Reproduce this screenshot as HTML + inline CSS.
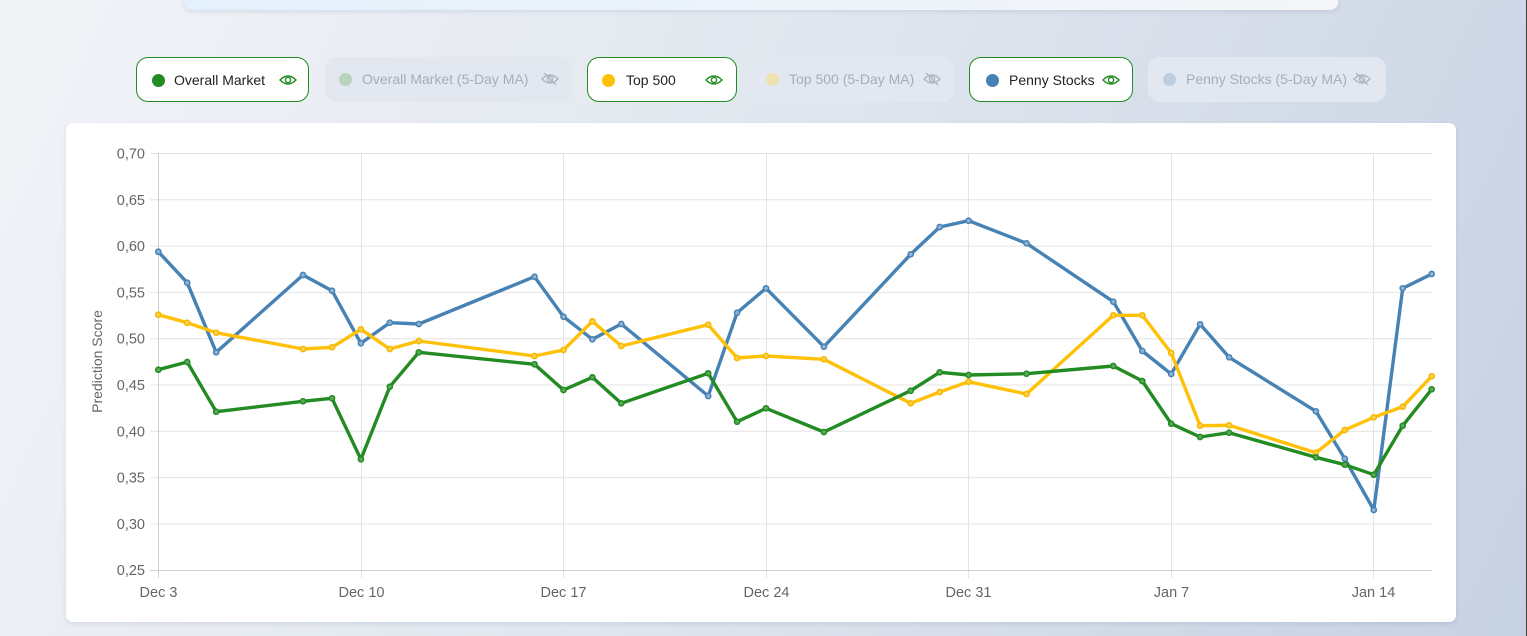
<!DOCTYPE html>
<html><head><meta charset="utf-8">
<style>
*{margin:0;padding:0;box-sizing:border-box}
html,body{width:1527px;height:636px;overflow:hidden}
body{position:relative;background:linear-gradient(115deg,#f1f3f7 0%,#e2e7ef 45%,#c6d1e2 100%);font-family:"Liberation Sans",Arial,sans-serif}
.topcard{position:absolute;left:184px;top:-20px;width:1154px;height:30px;border-radius:8px;background:linear-gradient(90deg,#e4f0fb 0%,#eef4fa 60%,#f4f6f9 100%);box-shadow:0 2px 4px rgba(120,140,170,0.18)}
.btn{position:absolute;top:57px;height:45px;border-radius:12px;font-size:14px}
.on{background:#fff;border:1px solid #228b22;color:#222}
.off{background:#e3e8f0;color:#a6adb8}
.dot{position:absolute;top:16px;width:13px;height:13px;border-radius:50%}
.lbl{position:absolute;top:13px;white-space:nowrap;line-height:18px}
.eye{position:absolute;top:14px}
.card{position:absolute;left:66px;top:123px;width:1390px;height:499px;background:#fff;border-radius:7px;box-shadow:0 2px 5px rgba(110,130,160,0.18)}
.edge{position:absolute;right:0;top:0;width:1px;height:636px;background:#3c3c3c}
</style></head><body>
<div class="topcard"></div>

<div class="btn on" style="left:136px;width:173px">
  <div class="dot" style="left:15px;background:#228b22"></div>
  <div class="lbl" style="left:37px">Overall Market</div>
  <svg class="eye" style="left:142px" width="18" height="16" viewBox="0 0 18 16"><path d="M1 8 Q9 0 17 8 Q9 16 1 8Z" fill="none" stroke="#228b22" stroke-width="1.4"/><circle cx="9" cy="8" r="2.6" fill="none" stroke="#228b22" stroke-width="1.4"/></svg>
</div>
<div class="btn off" style="left:325px;width:248px">
  <div class="dot" style="left:14px;background:#b9d3bd"></div>
  <div class="lbl" style="left:37px">Overall Market (5-Day MA)</div>
  <svg class="eye" style="left:216px" width="18" height="16" viewBox="0 0 18 16"><path d="M1 8 Q9 0 17 8 Q9 16 1 8Z" fill="none" stroke="#b0b6c0" stroke-width="1.4"/><circle cx="9" cy="8" r="2.6" fill="none" stroke="#b0b6c0" stroke-width="1.4"/><line x1="3" y1="2" x2="15" y2="14" stroke="#b0b6c0" stroke-width="1.4"/></svg>
</div>
<div class="btn on" style="left:587px;width:150px">
  <div class="dot" style="left:14px;background:#ffc107"></div>
  <div class="lbl" style="left:38px">Top 500</div>
  <svg class="eye" style="left:117px" width="18" height="16" viewBox="0 0 18 16"><path d="M1 8 Q9 0 17 8 Q9 16 1 8Z" fill="none" stroke="#228b22" stroke-width="1.4"/><circle cx="9" cy="8" r="2.6" fill="none" stroke="#228b22" stroke-width="1.4"/></svg>
</div>
<div class="btn off" style="left:752px;width:202px">
  <div class="dot" style="left:14px;background:#f0e2b0"></div>
  <div class="lbl" style="left:37px">Top 500 (5-Day MA)</div>
  <svg class="eye" style="left:171px" width="18" height="16" viewBox="0 0 18 16"><path d="M1 8 Q9 0 17 8 Q9 16 1 8Z" fill="none" stroke="#b0b6c0" stroke-width="1.4"/><circle cx="9" cy="8" r="2.6" fill="none" stroke="#b0b6c0" stroke-width="1.4"/><line x1="3" y1="2" x2="15" y2="14" stroke="#b0b6c0" stroke-width="1.4"/></svg>
</div>
<div class="btn on" style="left:969px;width:164px">
  <div class="dot" style="left:16px;background:#4682b4"></div>
  <div class="lbl" style="left:39px">Penny Stocks</div>
  <svg class="eye" style="left:132px" width="18" height="16" viewBox="0 0 18 16"><path d="M1 8 Q9 0 17 8 Q9 16 1 8Z" fill="none" stroke="#228b22" stroke-width="1.4"/><circle cx="9" cy="8" r="2.6" fill="none" stroke="#228b22" stroke-width="1.4"/></svg>
</div>
<div class="btn off" style="left:1148px;width:238px">
  <div class="dot" style="left:15px;background:#bccde0"></div>
  <div class="lbl" style="left:38px">Penny Stocks (5-Day MA)</div>
  <svg class="eye" style="left:205px" width="18" height="16" viewBox="0 0 18 16"><path d="M1 8 Q9 0 17 8 Q9 16 1 8Z" fill="none" stroke="#b0b6c0" stroke-width="1.4"/><circle cx="9" cy="8" r="2.6" fill="none" stroke="#b0b6c0" stroke-width="1.4"/><line x1="3" y1="2" x2="15" y2="14" stroke="#b0b6c0" stroke-width="1.4"/></svg>
</div>

<div class="card"></div>

<svg style="position:absolute;left:0;top:0" width="1527" height="636" viewBox="0 0 1527 636" font-family="Liberation Sans, Arial, sans-serif">
  <g stroke="#e4e4e4" stroke-width="1">
    <line x1="150" y1="153.5" x2="1432" y2="153.5"/>
    <line x1="150" y1="199.8" x2="1432" y2="199.8"/>
    <line x1="150" y1="246.1" x2="1432" y2="246.1"/>
    <line x1="150" y1="292.4" x2="1432" y2="292.4"/>
    <line x1="150" y1="338.7" x2="1432" y2="338.7"/>
    <line x1="150" y1="385" x2="1432" y2="385"/>
    <line x1="150" y1="431.3" x2="1432" y2="431.3"/>
    <line x1="150" y1="477.6" x2="1432" y2="477.6"/>
    <line x1="150" y1="523.9" x2="1432" y2="523.9"/>
  </g>
  <g stroke="#e4e4e4" stroke-width="1">
    <line x1="361.5" y1="153" x2="361.5" y2="578"/>
    <line x1="563.5" y1="153" x2="563.5" y2="578"/>
    <line x1="766.5" y1="153" x2="766.5" y2="578"/>
    <line x1="968.5" y1="153" x2="968.5" y2="578"/>
    <line x1="1171.5" y1="153" x2="1171.5" y2="578"/>
    <line x1="1373.5" y1="153" x2="1373.5" y2="578"/>
  </g>
  <line x1="158.5" y1="153" x2="158.5" y2="578" stroke="#d0d0d0"/>
  <line x1="150" y1="570.5" x2="1432" y2="570.5" stroke="#d0d0d0"/>
  <g fill="#666" font-size="14.5" text-anchor="end">
    <text x="145" y="158.5">0,70</text>
    <text x="145" y="204.8">0,65</text>
    <text x="145" y="251.1">0,60</text>
    <text x="145" y="297.4">0,55</text>
    <text x="145" y="343.7">0,50</text>
    <text x="145" y="390">0,45</text>
    <text x="145" y="436.3">0,40</text>
    <text x="145" y="482.6">0,35</text>
    <text x="145" y="528.9">0,30</text>
    <text x="145" y="575.2">0,25</text>
  </g>
  <g fill="#666" font-size="14.5" text-anchor="middle">
    <text x="158.5" y="597">Dec 3</text>
    <text x="361.5" y="597">Dec 10</text>
    <text x="563.5" y="597">Dec 17</text>
    <text x="766.5" y="597">Dec 24</text>
    <text x="968.5" y="597">Dec 31</text>
    <text x="1171.5" y="597">Jan 7</text>
    <text x="1373.5" y="597">Jan 14</text>
  </g>
  <text transform="translate(102,361.5) rotate(-90)" fill="#666" font-size="14" text-anchor="middle">Prediction Score</text>

  <polyline fill="none" stroke="#4682b4" stroke-width="3.4" stroke-linejoin="round" points="158.3,251.7 187.2,282.7 216.2,352.3 303.0,275 332.0,290.7 360.9,343.3 389.8,322.7 418.8,324 534.5,276.7 563.5,316.7 592.4,339.3 621.3,324 708.2,396 737.1,312.7 766.0,288.3 823.9,346.7 910.7,254.3 939.7,227 968.6,220.7 1026.5,243.3 1113.3,301.7 1142.3,351 1171.2,374 1200.1,324.3 1229.1,357.3 1315.9,411.3 1344.8,458.7 1373.8,510 1402.7,288.3 1431.7,274"/>
  <g fill="#8fb2d2" stroke="#4682b4" stroke-width="1.5">
    <circle cx="158.3" cy="251.7" r="2.6"/><circle cx="187.2" cy="282.7" r="2.6"/><circle cx="216.2" cy="352.3" r="2.6"/><circle cx="303.0" cy="275" r="2.6"/><circle cx="332.0" cy="290.7" r="2.6"/><circle cx="360.9" cy="343.3" r="2.6"/><circle cx="389.8" cy="322.7" r="2.6"/><circle cx="418.8" cy="324" r="2.6"/><circle cx="534.5" cy="276.7" r="2.6"/><circle cx="563.5" cy="316.7" r="2.6"/><circle cx="592.4" cy="339.3" r="2.6"/><circle cx="621.3" cy="324" r="2.6"/><circle cx="708.2" cy="396" r="2.6"/><circle cx="737.1" cy="312.7" r="2.6"/><circle cx="766.0" cy="288.3" r="2.6"/><circle cx="823.9" cy="346.7" r="2.6"/><circle cx="910.7" cy="254.3" r="2.6"/><circle cx="939.7" cy="227" r="2.6"/><circle cx="968.6" cy="220.7" r="2.6"/><circle cx="1026.5" cy="243.3" r="2.6"/><circle cx="1113.3" cy="301.7" r="2.6"/><circle cx="1142.3" cy="351" r="2.6"/><circle cx="1171.2" cy="374" r="2.6"/><circle cx="1200.1" cy="324.3" r="2.6"/><circle cx="1229.1" cy="357.3" r="2.6"/><circle cx="1315.9" cy="411.3" r="2.6"/><circle cx="1344.8" cy="458.7" r="2.6"/><circle cx="1373.8" cy="510" r="2.6"/><circle cx="1402.7" cy="288.3" r="2.6"/><circle cx="1431.7" cy="274" r="2.6"/>
  </g>

  <polyline fill="none" stroke="#ffc107" stroke-width="3.4" stroke-linejoin="round" points="158.3,314.7 187.2,322.7 216.2,332.7 303.0,349 332.0,347.3 360.9,329.3 389.8,349 418.8,341 534.5,356 563.5,350 592.4,321.3 621.3,346 708.2,324.7 737.1,358 766.0,356 823.9,359.3 910.7,403.3 939.7,392 968.6,381.7 1026.5,394 1113.3,315.3 1142.3,315.3 1171.2,353 1200.1,425.7 1229.1,425.3 1315.9,452.7 1344.8,430 1373.8,417.3 1402.7,406.7 1431.7,376.3"/>
  <g fill="#ffd24d" stroke="#f5b800" stroke-width="1.5">
    <circle cx="158.3" cy="314.7" r="2.6"/><circle cx="187.2" cy="322.7" r="2.6"/><circle cx="216.2" cy="332.7" r="2.6"/><circle cx="303.0" cy="349" r="2.6"/><circle cx="332.0" cy="347.3" r="2.6"/><circle cx="360.9" cy="329.3" r="2.6"/><circle cx="389.8" cy="349" r="2.6"/><circle cx="418.8" cy="341" r="2.6"/><circle cx="534.5" cy="356" r="2.6"/><circle cx="563.5" cy="350" r="2.6"/><circle cx="592.4" cy="321.3" r="2.6"/><circle cx="621.3" cy="346" r="2.6"/><circle cx="708.2" cy="324.7" r="2.6"/><circle cx="737.1" cy="358" r="2.6"/><circle cx="766.0" cy="356" r="2.6"/><circle cx="823.9" cy="359.3" r="2.6"/><circle cx="910.7" cy="403.3" r="2.6"/><circle cx="939.7" cy="392" r="2.6"/><circle cx="968.6" cy="381.7" r="2.6"/><circle cx="1026.5" cy="394" r="2.6"/><circle cx="1113.3" cy="315.3" r="2.6"/><circle cx="1142.3" cy="315.3" r="2.6"/><circle cx="1171.2" cy="353" r="2.6"/><circle cx="1200.1" cy="425.7" r="2.6"/><circle cx="1229.1" cy="425.3" r="2.6"/><circle cx="1315.9" cy="452.7" r="2.6"/><circle cx="1344.8" cy="430" r="2.6"/><circle cx="1373.8" cy="417.3" r="2.6"/><circle cx="1402.7" cy="406.7" r="2.6"/><circle cx="1431.7" cy="376.3" r="2.6"/>
  </g>

  <polyline fill="none" stroke="#228b22" stroke-width="3.4" stroke-linejoin="round" points="158.3,369.7 187.2,362 216.2,411.7 303.0,401.3 332.0,398.3 360.9,459.3 389.8,386.7 418.8,352.3 534.5,364.3 563.5,390 592.4,377.3 621.3,403.3 708.2,373.3 737.1,421.7 766.0,408.3 823.9,432 910.7,390.7 939.7,372.3 968.6,375 1026.5,373.7 1113.3,366 1142.3,381 1171.2,423.7 1200.1,437 1229.1,432.7 1315.9,457.3 1344.8,464.7 1373.8,474.7 1402.7,425.7 1431.7,389.3"/>
  <g fill="#5aa85a" stroke="#228b22" stroke-width="1.5">
    <circle cx="158.3" cy="369.7" r="2.6"/><circle cx="187.2" cy="362" r="2.6"/><circle cx="216.2" cy="411.7" r="2.6"/><circle cx="303.0" cy="401.3" r="2.6"/><circle cx="332.0" cy="398.3" r="2.6"/><circle cx="360.9" cy="459.3" r="2.6"/><circle cx="389.8" cy="386.7" r="2.6"/><circle cx="418.8" cy="352.3" r="2.6"/><circle cx="534.5" cy="364.3" r="2.6"/><circle cx="563.5" cy="390" r="2.6"/><circle cx="592.4" cy="377.3" r="2.6"/><circle cx="621.3" cy="403.3" r="2.6"/><circle cx="708.2" cy="373.3" r="2.6"/><circle cx="737.1" cy="421.7" r="2.6"/><circle cx="766.0" cy="408.3" r="2.6"/><circle cx="823.9" cy="432" r="2.6"/><circle cx="910.7" cy="390.7" r="2.6"/><circle cx="939.7" cy="372.3" r="2.6"/><circle cx="968.6" cy="375" r="2.6"/><circle cx="1026.5" cy="373.7" r="2.6"/><circle cx="1113.3" cy="366" r="2.6"/><circle cx="1142.3" cy="381" r="2.6"/><circle cx="1171.2" cy="423.7" r="2.6"/><circle cx="1200.1" cy="437" r="2.6"/><circle cx="1229.1" cy="432.7" r="2.6"/><circle cx="1315.9" cy="457.3" r="2.6"/><circle cx="1344.8" cy="464.7" r="2.6"/><circle cx="1373.8" cy="474.7" r="2.6"/><circle cx="1402.7" cy="425.7" r="2.6"/><circle cx="1431.7" cy="389.3" r="2.6"/>
  </g>
</svg>
<div class="edge"></div>
</body></html>
